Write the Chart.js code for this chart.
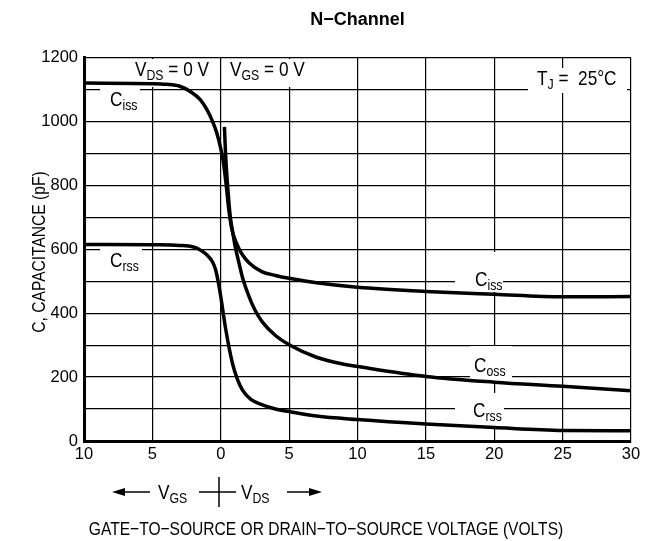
<!DOCTYPE html>
<html>
<head>
<meta charset="utf-8">
<script src="https://cdn.jsdelivr.net/npm/chart.js@4.4.1/dist/chart.umd.min.js"></script>
<style>
  body { margin: 0; background: #fff; }
  #wrap { width: 646px; height: 541px; position: relative; }
</style>
</head>
<body>
<div id="wrap"><canvas id="cap-chart"></canvas></div>
<script>
// Values (volts, pF). Negative volts = VGS side.
const cissVolts = [-10, -5, -4, -3, -2.2, -1.5, -1, -0.6, -0.3, 0, 0.2, 0.4, 0.6, 0.8, 1.0, 1.3, 1.6, 2.1, 3, 4, 5, 7, 10, 15, 20, 25, 30];
const cissPf    = [1120, 1118, 1116, 1110, 1093, 1068, 1036, 1000, 965, 915, 870, 800, 720, 665, 635, 605, 582, 556, 530, 518, 509, 495, 481, 468, 459, 451, 452];

const cossVolts = [0.27, 0.35, 0.5, 0.7, 0.85, 1.05, 1.34, 1.6, 2.07, 2.5, 3.05, 4, 5, 7, 9, 10, 15, 20, 25, 30];
const cossPf    = [983, 900, 800, 700, 660, 610, 556, 510, 452, 410, 372, 330, 301, 262, 240, 233, 202, 184, 171, 157];

const crssVolts = [-10, -5, -3, -2, -1.5, -1, -0.6, -0.37, -0.15, 0, 0.37, 0.85, 1.2, 1.58, 2.2, 3.05, 4, 5, 7, 10, 15, 20, 25, 30];
const crssPf    = [615, 614, 612, 607, 598, 582, 560, 535, 490, 452, 348, 244, 195, 160, 130, 113, 100, 92, 78, 67, 53, 42, 33, 32];

const xTicks = [-10, -5, 0, 5, 10, 15, 20, 25, 30];
const yLabelTicks = [0, 200, 400, 600, 800, 1000, 1200];

const FONT = "'Liberation Sans', Arial, sans-serif";
const SQUEEZE = 0.82;   // the datasheet uses a condensed face

function toPoints(xs, ys) {
    return xs.map((x, i) => ({ x: x, y: ys[i] }));
}

// condensed text, returns advance width
function narrowText(ctx, text, x, y, size, align) {
    ctx.save();
    ctx.font = size + 'px ' + FONT;
    ctx.textAlign = align || 'left';
    ctx.translate(x, y);
    ctx.scale(SQUEEZE, 1);
    ctx.fillText(text, 0, 0);
    const w = ctx.measureText(text).width * SQUEEZE;
    ctx.restore();
    return w;
}

// V with subscript DS and a tail " = 0 V"
function drawSub(ctx, x, y, main, sub, tail, size) {
    ctx.fillStyle = '#000';
    ctx.textBaseline = 'alphabetic';
    x += narrowText(ctx, main, x, y, size);
    x += narrowText(ctx, sub, x, y + 4, Math.round(size * 0.72));
    if (tail) narrowText(ctx, tail, x, y, size);
}

function whiteBox(ctx, x0, y0, x1, y1) {
    ctx.fillStyle = '#fff';
    ctx.fillRect(x0, y0, x1 - x0, y1 - y0);
}

function arrow(ctx, xFrom, xTo, y) {
    const dir = xTo > xFrom ? 1 : -1;
    ctx.beginPath();
    ctx.moveTo(xFrom, y);
    ctx.lineTo(xTo - dir * 8, y);
    ctx.stroke();
    ctx.beginPath();
    ctx.moveTo(xTo, y);
    ctx.lineTo(xTo - dir * 13, y - 4);
    ctx.lineTo(xTo - dir * 13, y + 4);
    ctx.closePath();
    ctx.fill();
}

const labelPlugin = {
    id: 'labelPlugin',
    beforeDatasetsDraw(chart) {
        const ctx = chart.ctx;
        ctx.save();
        // white patches where the labels break the grid
        whiteBox(ctx, 130, 59, 214, 87);
        whiteBox(ctx, 226, 59, 312, 87);
        whiteBox(ctx, 528, 68, 627, 93);
        whiteBox(ctx, 100, 86, 140, 110);
        whiteBox(ctx, 100, 246, 142, 272);
        whiteBox(ctx, 455, 252, 503, 292);
        whiteBox(ctx, 470, 346, 512, 381);
        whiteBox(ctx, 455, 393, 504, 429);

        drawSub(ctx, 135, 76, 'V', 'DS', ' = 0 V', 21);
        drawSub(ctx, 230, 76, 'V', 'GS', ' = 0 V', 21);
        drawSub(ctx, 537, 85, 'T', 'J', ' =  25\u00B0C', 21);
        drawSub(ctx, 110, 106, 'C', 'iss', '', 21);
        drawSub(ctx, 110, 267, 'C', 'rss', '', 21);
        drawSub(ctx, 475, 286, 'C', 'iss', '', 21);
        drawSub(ctx, 474, 372, 'C', 'oss', '', 21);
        drawSub(ctx, 473, 417, 'C', 'rss', '', 21);
        ctx.restore();
    },
    afterDraw(chart) {
        const ctx = chart.ctx;
        ctx.save();
        ctx.strokeStyle = '#000';
        ctx.fillStyle = '#000';
        ctx.lineWidth = 1.5;
        // ← VGS -|- VDS →
        arrow(ctx, 150, 112, 492);
        drawSub(ctx, 158, 499, 'V', 'GS', '', 21);
        ctx.beginPath();
        ctx.moveTo(199, 492); ctx.lineTo(236, 492);
        ctx.moveTo(219, 477); ctx.lineTo(219, 507);
        ctx.stroke();
        drawSub(ctx, 241, 499, 'V', 'DS', '', 21);
        arrow(ctx, 287, 322, 492);

        ctx.fillStyle = '#000';
        ctx.textBaseline = 'middle';
        narrowText(ctx, 'GATE\u2212TO\u2212SOURCE OR DRAIN\u2212TO\u2212SOURCE VOLTAGE (VOLTS)', 326, 530, 19, 'center');

        ctx.translate(40, 252);
        ctx.rotate(-Math.PI / 2);
        narrowText(ctx, 'C, CAPACITANCE (pF)', 0, 0, 19, 'center');
        ctx.restore();
    }
};

const lineStyle = {
    borderColor: '#000',
    backgroundColor: '#000',
    borderWidth: 3.5,
    pointRadius: 0,
    fill: false,
    cubicInterpolationMode: 'monotone'
};

const config = {
    type: 'line',
    data: {
        datasets: [
            Object.assign({ label: 'Ciss', data: toPoints(cissVolts, cissPf) }, lineStyle),
            Object.assign({ label: 'Coss', data: toPoints(cossVolts, cossPf) }, lineStyle),
            Object.assign({ label: 'Crss', data: toPoints(crssVolts, crssPf) }, lineStyle)
        ]
    },
    options: {
        responsive: true,
        maintainAspectRatio: false,
        animation: false,
        layout: { padding: { top: 0, right: 15, bottom: 0, left: 0 } },
        scales: {
            x: {
                type: 'linear',
                min: -10,
                max: 30,
                afterBuildTicks: function(scale) {
                    scale.ticks = xTicks.map(v => ({ value: v }));
                },
                afterFit: function(scale) { scale.height = 100; },
                grid: { color: '#000', lineWidth: 1.2, drawTicks: false },
                border: { display: true, color: '#000', width: 3 },
                ticks: {
                    color: '#000',
                    padding: 4,
                    maxRotation: 0,
                    font: { family: FONT, size: 16.5 },
                    callback: function(value) { return Math.abs(value); }
                }
            },
            y: {
                type: 'linear',
                min: 0,
                max: 1200,
                ticks: {
                    stepSize: 100,
                    color: '#000',
                    padding: 6,
                    font: { family: FONT, size: 16.5 },
                    callback: function(value) {
                        return yLabelTicks.includes(value) ? value : '';
                    }
                },
                afterFit: function(scale) { scale.width = 84; },
                grid: { color: '#000', lineWidth: 1.2, drawTicks: false },
                border: { display: true, color: '#000', width: 3 }
            }
        },
        plugins: {
            legend: { display: false },
            tooltip: { enabled: false },
            title: {
                display: true,
                text: 'N\u2212Channel',
                color: '#000',
                fullSize: false,
                font: { family: FONT, size: 18, weight: 'bold' },
                padding: { top: 9, bottom: 26.9 }
            }
        }
    },
    plugins: [labelPlugin]
};

const ctx = document.getElementById('cap-chart').getContext('2d');
const capChart = new Chart(ctx, config);
</script>
</body>
</html>
